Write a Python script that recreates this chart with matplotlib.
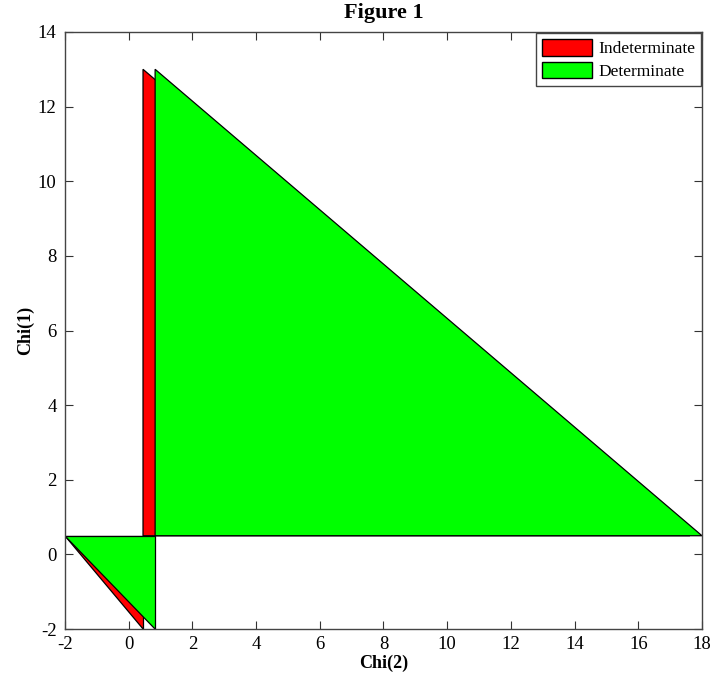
import matplotlib
matplotlib.use("Agg")
import matplotlib.pyplot as plt
from matplotlib.patches import Polygon, Patch

plt.rcParams['font.family'] = ['Liberation Serif', 'DejaVu Serif']
plt.rcParams['axes.unicode_minus'] = False

# Region boundaries (Chi(2) on x, Chi(1) on y)
x_min, x_max = -2, 18
y_min, y_max = -2, 14
y_split = 0.5
y_top = 13
indet_edge = 0.45      # left edge of the indeterminate region
det_edge = 0.83        # left edge of the determinate region
indet_far = 17.62      # where the indeterminate upper triangle meets y_split

# Polygon vertices
indet_upper = [(indet_edge, y_top), (indet_far, y_split), (indet_edge, y_split)]
indet_lower = [(x_min, y_split), (indet_edge, y_split), (indet_edge, y_min)]
det_upper = [(det_edge, y_top), (x_max, y_split), (det_edge, y_split)]
det_lower = [(x_min, y_split), (det_edge, y_split), (det_edge, y_min)]

labels = ["Indeterminate", "Determinate"]
colors = ["#ff0000", "#00ff00"]

fig = plt.figure(figsize=(7.11, 6.79), dpi=100)
ax = fig.add_axes([0.0914, 0.0736, 0.8959, 0.8793])

for verts in (indet_upper, indet_lower):
    ax.add_patch(Polygon(verts, closed=True, facecolor=colors[0],
                         edgecolor="black", linewidth=0.9))
for verts in (det_upper, det_lower):
    ax.add_patch(Polygon(verts, closed=True, facecolor=colors[1],
                         edgecolor="black", linewidth=0.9))

ax.set_xlim(x_min, x_max)
ax.set_ylim(y_min, y_max)
ax.set_xticks(range(-2, 19, 2))
ax.set_yticks(range(-2, 15, 2))
ax.tick_params(direction="in", top=True, right=True, labelsize=13.5,
               length=6, width=0.8, color="#333333")
ax.tick_params(axis="x", pad=5)
ax.tick_params(axis="y", pad=6)
for s in ax.spines.values():
    s.set_color("#444444")
    s.set_linewidth(1.0)

ax.set_title("Figure 1", fontsize=16, fontweight="bold", pad=10)
ax.set_xlabel("Chi(2)", fontsize=13, fontweight="bold", labelpad=1)
ax.set_ylabel("Chi(1)", fontsize=13, fontweight="bold", labelpad=3)

handles = [Patch(facecolor=c, edgecolor="black", label=l)
           for c, l in zip(colors, labels)]
leg = ax.legend(handles=handles, loc="upper right", fontsize=12.5,
                fancybox=False, framealpha=1, edgecolor="#444444",
                borderaxespad=0.05, handlelength=2.9, handleheight=1.1,
                handletextpad=0.35, labelspacing=0.25, borderpad=0.35)
leg.get_frame().set_linewidth(1.0)

fig.savefig("out.png", dpi=100)
